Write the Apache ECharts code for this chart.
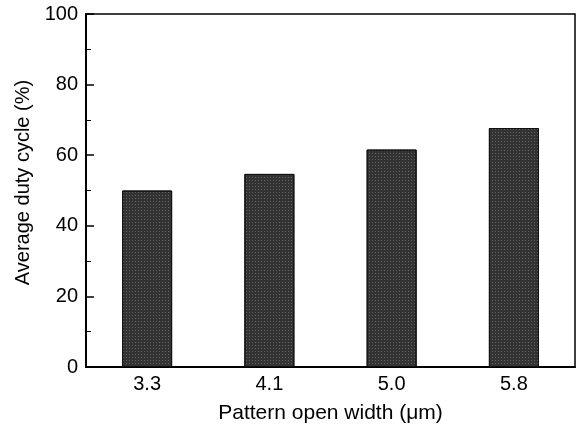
<!DOCTYPE html>
<html>
<head>
<meta charset="utf-8">
<script src="https://cdn.jsdelivr.net/npm/echarts@6/dist/echarts.min.js"></script>
<style>
  html, body { margin: 0; padding: 0; background: #fff; }
  #chart { width: 579px; height: 429px; }
</style>
</head>
<body>
<div id="chart"></div>
<script>
// values
const widths = ["3.3", "4.1", "5.0", "5.8"];
const dutyCycle = [50.0, 54.7, 61.6, 67.7];

const font = "Liberation Sans, Arial, sans-serif";

var myChart = echarts.init(document.getElementById("chart"));

var option = {
  animation: false,
  grid: {
    left: 86,
    right: 4,
    top: 14,
    bottom: 61,
    show: true,
    borderColor: "#000",
    borderWidth: 1.5,
  },
  xAxis: {
    type: "category",
    data: widths,
    name: "Pattern open width (\u03bcm)",
    nameLocation: "middle",
    nameGap: 36,
    nameTextStyle: { fontFamily: font, fontSize: 21, color: "#000" },
    axisLine: { lineStyle: { color: "#000", width: 2 } },
    axisTick: { show: false },
    axisLabel: { fontFamily: font, fontSize: 20, color: "#000", margin: 7 },
  },
  yAxis: {
    type: "value",
    min: 0,
    max: 100,
    interval: 20,
    name: "Average duty cycle (%)",
    nameLocation: "middle",
    nameRotate: 90,
    nameGap: 51,
    nameTextStyle: { fontFamily: font, fontSize: 20, color: "#000", padding: [0, 0, 0, 16] },
    axisLine: { show: true, lineStyle: { color: "#000", width: 2 } },
    axisTick: { show: true, inside: true, length: 8, lineStyle: { color: "#000", width: 1.5 } },
    minorTick: { show: true, splitNumber: 2, length: 5, lineStyle: { color: "#000", width: 1 } },
    splitLine: { show: false },
    axisLabel: { fontFamily: font, fontSize: 20, color: "#000", margin: 8 },
  },
  series: [
    {
      type: "bar",
      data: dutyCycle,
      barWidth: 50,
      itemStyle: {
        color: "#333",
        borderColor: "#111",
        borderWidth: 1,
        decal: {
          symbol: "rect",
          color: "rgba(150,150,150,0.5)",
          dashArrayX: [1, 2],
          dashArrayY: [1, 2],
          symbolSize: 1,
          rotation: 0,
        },
      },
    },
  ],
};

option && myChart.setOption(option);
</script>
</body>
</html>
